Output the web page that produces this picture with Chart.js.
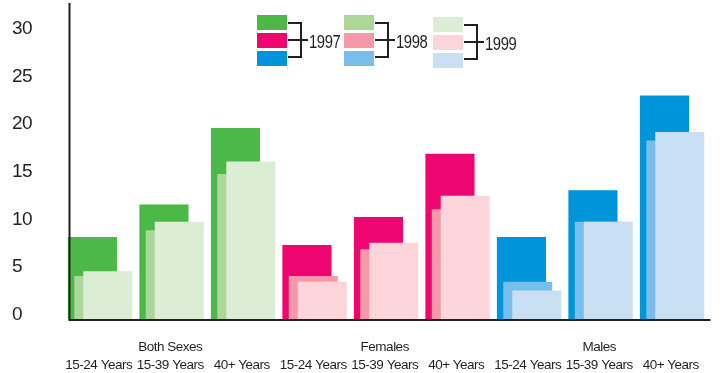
<!DOCTYPE html>
<html>
<head>
<meta charset="utf-8">
<script src="https://cdn.jsdelivr.net/npm/chart.js@4.4.1/dist/chart.umd.min.js"></script>
<style>
body { margin: 0; background: #fff; }
#wrap { position: relative; width: 728px; height: 373px; }
.leg { position: absolute; width: 80px; height: 60px; }
.sw { position: absolute; left: 0; width: 30px; height: 15px; }
.br { position: absolute; left: 31px; top: 7px; width: 14px; height: 36px; box-sizing: border-box;
      border: 2px solid #231f20; border-left: none; }
.mid { position: absolute; left: 31px; top: 24px; width: 20px; height: 2px; background: #231f20; }
.yr { position: absolute; left: 52px; top: 16px; line-height: 20px; color: #231f20;
      font: 19px 'Liberation Sans', Arial, sans-serif; letter-spacing: -0.5px;
      transform: scaleX(0.78); transform-origin: left center; }
</style>
</head>
<body>
<div id="wrap">
  <canvas id="chart"></canvas>
  <div id="legend"></div>
</div>
<script>
// ---- data ----
const groups = ['Both Sexes', 'Females', 'Males'];
const ages = ['15-24 Years', '15-39 Years', '40+ Years'];
const years = ['1997', '1998', '1999'];

const values1997 = [8.7, 12.1, 20.1, 7.85, 10.8, 17.4, 8.7, 13.6, 23.5];
const values1998 = [4.6, 9.4, 15.3, 4.6, 7.4, 11.6, 4.0, 10.3, 18.8];
const values1999 = [5.1, 10.3, 16.6, 4.0, 8.1, 13.0, 3.1, 10.3, 19.7];

const yTicks = [0, 5, 10, 15, 20, 25, 30];

// colours: one palette per group, one shade per year
const greens = ['#4cb848', '#acd69a', '#dcedd6'];
const pinks = ['#ee0570', '#f598a8', '#fbd5da'];
const blues = ['#0095da', '#77bfea', '#c8dff4'];
const palettes = [greens, pinks, blues];

const labels = groups.flatMap(g => ages.map((a, j) => [j === 1 ? g : '', a]));
const shade = k => groups.flatMap((g, gi) => ages.map(() => palettes[gi][k]));

// bars overlap: wide bars inside narrow slots
const catPct = [0.264, 0.3, 0.378];
const barPct = [7.81, 6.85, 5.44];

const seriesValues = [values1997, values1998, values1999];

const font = "'Liberation Sans', Arial, sans-serif";
const ink = '#231f20';

const overlapAndAxes = {
  id: 'overlapAndAxes',
  beforeDraw(chart) {
    chart.ctx.letterSpacing = '-0.5px';
  },
  // draw 1997 first so later years sit on top of it
  beforeDatasetsDraw(chart) {
    chart.getSortedVisibleDatasetMetas().forEach(m => m.controller.draw());
    return false;
  },
  afterDraw(chart) {
    const { ctx, chartArea } = chart;
    const x0 = chartArea.left + 6.5;
    ctx.save();
    ctx.strokeStyle = ink;
    ctx.lineWidth = 2;
    ctx.beginPath();
    ctx.moveTo(x0, chartArea.top);
    ctx.lineTo(x0, chartArea.bottom + 1);
    ctx.moveTo(x0 - 1, chartArea.bottom);
    ctx.lineTo(chartArea.right + 4, chartArea.bottom);
    ctx.stroke();
    ctx.restore();
  }
};

new Chart(document.getElementById('chart'), {
  type: 'bar',
  data: {
    labels: labels,
    datasets: years.map((y, k) => ({
      label: y,
      data: seriesValues[k],
      backgroundColor: shade(k),
      borderWidth: 0,
      categoryPercentage: catPct[k],
      barPercentage: barPct[k]
    }))
  },
  options: {
    responsive: true,
    maintainAspectRatio: false,
    animation: false,
    layout: { padding: { top: 3, left: 12, right: 21.5, bottom: 0 } },
    plugins: {
      legend: { display: false },
      tooltip: { enabled: false }
    },
    scales: {
      x: {
        grid: { display: false, drawTicks: false },
        border: { display: false },
        ticks: {
          color: ink,
          padding: 18,
          maxRotation: 0,
          autoSkip: false,
          font: { family: font, size: 13.5, lineHeight: '18px' }
        },
        afterFit(s) { s.height = 53; s.paddingLeft = 0; s.paddingRight = 0; }
      },
      y: {
        min: 0,
        max: 33.2,
        grid: { display: false, drawTicks: false },
        border: { display: false },
        afterBuildTicks(s) { s.ticks = yTicks.map(v => ({ value: v })); },
        ticks: {
          color: ink,
          crossAlign: 'far',
          labelOffset: -5,
          font: { family: font, size: 19 }
        },
        afterFit(s) { s.width = 51; s.paddingTop = 0; s.paddingBottom = 0; }
      }
    }
  },
  plugins: [overlapAndAxes]
});

// bracket legend
const legendPos = [[257, 15], [344, 15], [433, 17]];
const legend = document.getElementById('legend');
years.forEach((y, k) => {
  const col = document.createElement('div');
  col.className = 'leg';
  col.style.left = legendPos[k][0] + 'px';
  col.style.top = legendPos[k][1] + 'px';
  let html = '';
  palettes.forEach((p, r) => {
    html += '<div class="sw" style="top:' + (r * 18) + 'px;background:' + p[k] + '"></div>';
  });
  html += '<div class="br"></div><div class="mid"></div><div class="yr">' + y + '</div>';
  col.innerHTML = html;
  legend.appendChild(col);
});
</script>
</body>
</html>
